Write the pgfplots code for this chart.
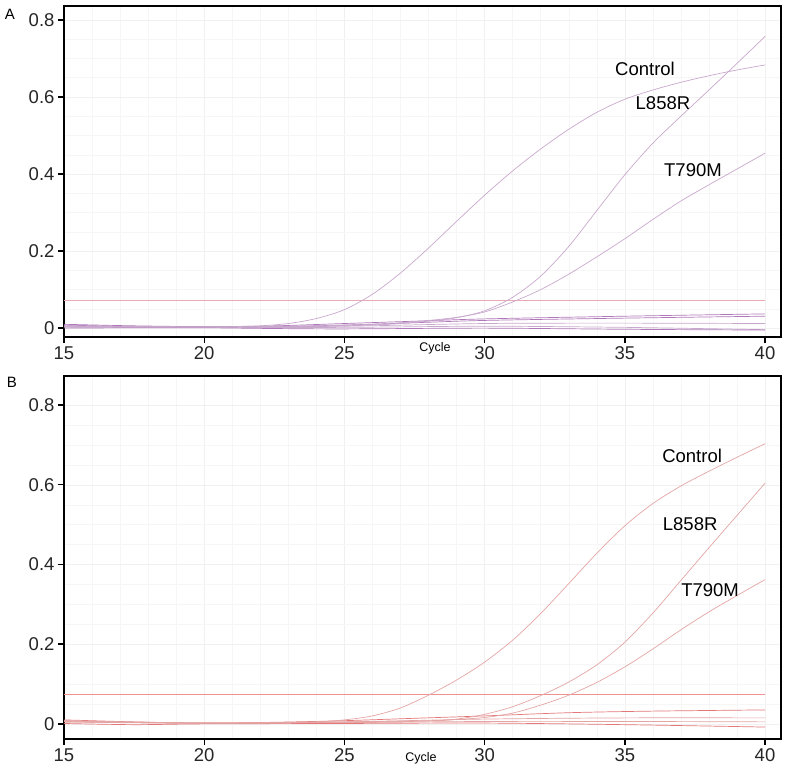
\documentclass[border=0pt]{standalone}
\usepackage{fontspec}
\setmainfont{Liberation Sans}
\usepackage{pgfplots}
\pgfplotsset{compat=1.18}

\definecolor{pA}{RGB}{200,168,205}
\definecolor{pAd}{RGB}{175,120,185}
\definecolor{thA}{RGB}{235,170,178}
\definecolor{pB}{RGB}{228,165,165}
\definecolor{pBd}{RGB}{228,120,120}
\definecolor{thB}{RGB}{238,145,145}

\pgfplotsset{qpcr/.style={
  scale only axis, width=717pt, xmin=15, xmax=40.57,
  xtick={15,20,25,30,35,40}, ytick={0,0.2,0.4,0.6,0.8},
  tick align=outside, major tick length=6pt, minor tick length=0pt,
  tick style={black, line width=1.4pt},
  axis line style={line width=1.6pt, black},
  tick pos=left,
  minor x tick num=4, minor y tick num=3,
  grid=both, major grid style={gray!12, line width=0.4pt},
  minor grid style={gray!7, line width=0.4pt},
  ticklabel style={font=\fontsize{18.5}{20}\selectfont, text=black!85},
  /pgf/number format/assume math mode=true,
  every axis plot/.append style={line width=0.7pt, no marks},
  clip=true,
}}

\begin{document}
\begin{tikzpicture}
\path[use as bounding box] (0,0) rectangle (786pt,-773pt);

% ---------------- Panel A ----------------
\begin{axis}[qpcr, at={(64pt,-337pt)}, anchor=south west, height=331pt,
  ymin=-0.023, ymax=0.836]
% threshold
\addplot[thA] coordinates {(15,0.073) (40,0.073)};
% baselines
\addplot[pAd, smooth] coordinates {(15,0.010) (17.5,0.006) (20,0.004) (22.5,0.006) (25,0.012) (27.5,0.018) (30,0.024) (35,0.031) (40,0.037)};
\addplot[pAd, smooth] coordinates {(15,0.008) (17.5,0.004) (20,0.003) (22.5,0.004) (25,0.008) (27.5,0.014) (30,0.020) (35,0.026) (40,0.031)};
\addplot[pA, smooth] coordinates {(15,0.005) (20,0.003) (25,0.005) (30,0.012) (35,0.013) (40,0.012)};
\addplot[pA, smooth] coordinates {(15,0.002) (20,0.002) (25,0.002) (30,0.005) (35,0.002) (40,-0.004)};
\addplot[pAd, smooth] coordinates {(15,0.000) (17.5,0.001) (20,0.001) (22.5,-0.001) (25,-0.002) (30,0.000) (35,-0.003) (40,-0.005)};
% Control
\addplot[pA, smooth] coordinates {(15,0.005) (17,0.003) (19,0.003) (21,0.004) (22,0.006) (23,0.012) (24,0.025) (25,0.048) (26,0.088) (27,0.143) (28,0.208) (29,0.277) (30,0.345) (31,0.408) (32,0.465) (33,0.516) (34,0.560) (35,0.594) (36,0.618) (37,0.638) (38,0.655) (39,0.670) (40,0.683)};
% L858R
\addplot[pA, smooth] coordinates {(15,0.004) (20,0.003) (24,0.005) (26,0.008) (27,0.012) (28,0.018) (29,0.027) (30,0.045) (31,0.080) (32,0.135) (33,0.212) (34,0.305) (35,0.398) (36,0.480) (37,0.550) (38,0.618) (39,0.687) (40,0.757)};
% T790M
\addplot[pA, smooth] coordinates {(15,0.006) (20,0.003) (24,0.006) (26,0.010) (27,0.014) (28,0.020) (29,0.028) (30,0.042) (31,0.068) (32,0.100) (33,0.140) (34,0.185) (35,0.232) (36,0.282) (37,0.330) (38,0.372) (39,0.413) (40,0.454)};
\node[font=\fontsize{18.5}{20}\selectfont] at (axis cs:35.72,0.673) {Control};
\node[font=\fontsize{18.5}{20}\selectfont] at (axis cs:36.36,0.584) {L858R};
\node[font=\fontsize{18.5}{20}\selectfont] at (axis cs:37.43,0.410) {T790M};
\end{axis}

% ---------------- Panel B ----------------
\begin{axis}[qpcr, at={(64pt,-739pt)}, anchor=south west, height=363pt,
  ymin=-0.038, ymax=0.873]
\addplot[thB] coordinates {(15,0.074) (40,0.074)};
\addplot[pBd, smooth] coordinates {(15,0.010) (17.5,0.005) (20,0.002) (22.5,0.004) (25,0.008) (27.5,0.014) (30,0.020) (33,0.028) (36,0.032) (40,0.035)};
\addplot[pB, smooth] coordinates {(15,0.008) (20,0.002) (25,0.005) (30,0.012) (35,0.015) (40,0.015)};
\addplot[pB, smooth] coordinates {(15,0.005) (20,0.001) (25,0.003) (30,0.006) (35,0.006) (40,0.005)};
\addplot[pBd, smooth] coordinates {(15,0.001) (17.5,-0.002) (20,0.000) (25,0.001) (30,0.002) (35,-0.002) (40,-0.008)};
% Control
\addplot[pB, smooth] coordinates {(15,0.008) (17,0.005) (20,0.002) (22,0.002) (23,0.003) (24,0.005) (25,0.010) (26,0.020) (27,0.040) (28,0.072) (29,0.110) (30,0.155) (31,0.210) (32,0.277) (33,0.352) (34,0.428) (35,0.497) (36,0.553) (37,0.597) (38,0.634) (39,0.669) (40,0.703)};
% L858R
\addplot[pB, smooth] coordinates {(15,0.005) (20,0.002) (25,0.004) (28,0.007) (29,0.012) (30,0.024) (31,0.043) (32,0.071) (33,0.105) (34,0.148) (35,0.205) (36,0.278) (37,0.360) (38,0.442) (39,0.523) (40,0.604)};
% T790M
\addplot[pB, smooth] coordinates {(15,0.006) (20,0.002) (25,0.005) (28,0.008) (29,0.011) (30,0.016) (31,0.027) (32,0.047) (33,0.072) (34,0.104) (35,0.143) (36,0.188) (37,0.236) (38,0.281) (39,0.322) (40,0.362)};
\node[font=\fontsize{18.5}{20}\selectfont] at (axis cs:37.40,0.672) {Control};
\node[font=\fontsize{18.5}{20}\selectfont] at (axis cs:37.33,0.502) {L858R};
\node[font=\fontsize{18.5}{20}\selectfont] at (axis cs:38.04,0.336) {T790M};
\end{axis}

\node[font=\fontsize{15}{16}\selectfont] at (10pt,-14pt) {A};
\node[font=\fontsize{15}{16}\selectfont] at (12pt,-382pt) {B};
\node[font=\fontsize{12.5}{14}\selectfont] at (435pt,-348pt) {Cycle};
\node[font=\fontsize{12.5}{14}\selectfont] at (421pt,-758pt) {Cycle};
\end{tikzpicture}
\end{document}
